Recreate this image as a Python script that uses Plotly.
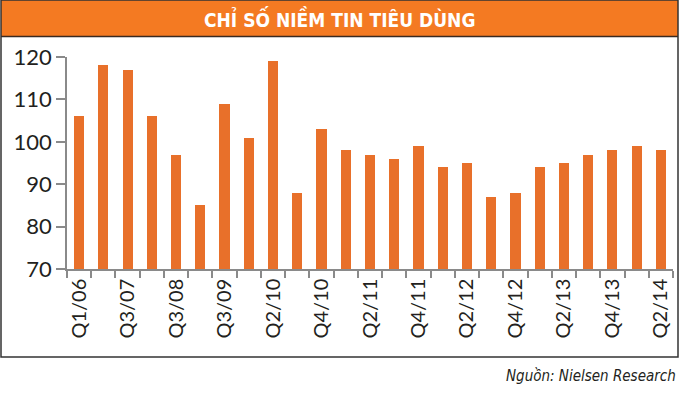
import plotly.graph_objects as go

# ---- data ----
quarters = ["Q1/06", "Q3/06", "Q3/07", "Q1/08", "Q3/08", "Q1/09", "Q3/09", "Q1/10",
            "Q2/10", "Q3/10", "Q4/10", "Q1/11", "Q2/11", "Q3/11", "Q4/11", "Q1/12",
            "Q2/12", "Q3/12", "Q4/12", "Q1/13", "Q2/13", "Q3/13", "Q4/13", "Q1/14", "Q2/14"]
index_values = [106, 118, 117, 106, 97, 85, 109, 101, 119, 88, 103, 98, 97, 96, 99,
                94, 95, 87, 88, 94, 95, 97, 98, 99, 98]
shown_labels = ["Q1/06", "Q3/07", "Q3/08", "Q3/09", "Q2/10", "Q4/10", "Q2/11",
                "Q4/11", "Q2/12", "Q4/12", "Q2/13", "Q4/13", "Q2/14"]
y_ticks = [70, 80, 90, 100, 110, 120]
title_text = "CHỈ SỐ NIỀM TIN TIÊU DÙNG"
source_text = "Nguồn: Nielsen Research"

W, H = 700, 393
L, R, T, B = 67, 673, 57, 269  # plot area in px

def px_x(px):
    return (px - L) / (R - L)

def px_y(py):
    return (B - py) / (B - T)

n = len(quarters)
xs = list(range(n))
shown_pos = [quarters.index(q) for q in shown_labels]

fig = go.Figure(go.Bar(
    x=xs, y=[v - 70 for v in index_values], base=70,
    width=0.42, marker=dict(color="#E8702A", line=dict(width=0)),
    hoverinfo="skip"))

font_axis = "Lato, 'Open Sans', sans-serif"
font_cond = "'DejaVu Sans Condensed', 'Liberation Sans Narrow', sans-serif"
fig.update_layout(
    width=W, height=H,
    margin=dict(l=L, r=W - R, t=T, b=H - B, pad=0, autoexpand=False),
    paper_bgcolor="white", plot_bgcolor="white",
    showlegend=False,
    bargap=0,
    xaxis=dict(
        range=[-0.5, n - 0.5], tickmode="array", tickvals=shown_pos,
        ticktext=shown_labels, tickangle=-90, ticks="", showgrid=False,
        zeroline=False, showline=True, linecolor="#8a8a8a", linewidth=1.5,
        tickfont=dict(family=font_axis, size=20, color="#231f20"),
        ticklabelstandoff=0, automargin=False, ticklabeloverflow="allow",
        minor=dict(tickmode="linear", tick0=-0.5, dtick=1, ticks="outside",
                   ticklen=7, tickcolor="#8a8a8a", tickwidth=1.5, showgrid=False),
    ),
    yaxis=dict(
        range=[70, 120], tickmode="array", tickvals=y_ticks,
        ticks="outside", ticklen=9, tickcolor="#8a8a8a", tickwidth=1.5,
        showgrid=False, zeroline=False, showline=True, linecolor="#8a8a8a",
        linewidth=1.5, automargin=False, ticklabeloverflow="allow",
        tickfont=dict(family=font_axis, size=22, color="#231f20"),
        ticksuffix="\u00a0\u00a0\u00a0\u00a0",
    ),
    shapes=[
        dict(type="rect", xref="paper", yref="paper",
             x0=px_x(1), x1=px_x(678), y0=px_y(36.5), y1=px_y(0),
             fillcolor="#F47A22", line=dict(width=0), layer="below"),
        dict(type="line", xref="paper", yref="paper",
             x0=px_x(1), x1=px_x(678), y0=px_y(36.5), y1=px_y(36.5),
             line=dict(color="#3a2a20", width=1.5)),
        dict(type="rect", xref="paper", yref="paper",
             x0=px_x(1), x1=px_x(678), y0=px_y(357), y1=px_y(0),
             line=dict(color="#333333", width=1.5), fillcolor="rgba(0,0,0,0)"),
    ],
    annotations=[
        dict(text="<b>" + title_text + "</b>", xref="paper", yref="paper",
             x=px_x(339), y=px_y(19), xanchor="center", yanchor="middle",
             showarrow=False,
             font=dict(family=font_cond, size=19, color="white")),
        dict(text="<i>" + source_text + "</i>", xref="paper", yref="paper",
             x=px_x(678), y=px_y(376), xanchor="right", yanchor="middle",
             showarrow=False,
             font=dict(family=font_cond, size=15, color="#231f20")),
    ],
)

fig.write_html("out.html", config={"displayModeBar": False},
               post_script="document.body.style.margin='0px';")
